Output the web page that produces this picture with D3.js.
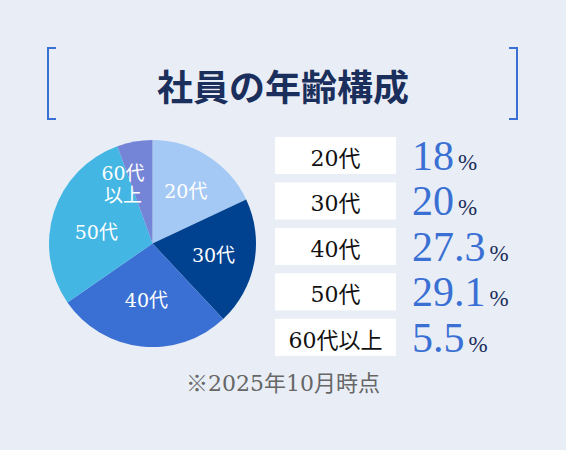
<!DOCTYPE html>
<html><head><meta charset="utf-8">
<script src="https://cdn.jsdelivr.net/npm/d3@7/dist/d3.min.js"></script>
<style>
html,body{margin:0;padding:0;background:#e9eef6;}
svg{display:block;}
text{font-family:"DejaVu Serif","Liberation Serif","Noto Sans CJK JP",serif;}
text.val{font-family:"Liberation Serif","Noto Sans CJK JP",serif;}
</style></head>
<body>
<svg id="c" width="566" height="450"></svg>
<script>
const title = "社員の年齢構成";
const categories = ["20代","30代","40代","50代","60代以上"];
const values = [18, 20, 27.3, 29.1, 5.5];
const valueLabels = ["18","20","27.3","29.1","5.5"];
const colors = ["#a5c9f5","#004190","#3a70d4","#43b6e3","#7485d8"];
const sliceLabels = [["20代"],["30代"],["40代"],["50代"],["60代","以上"]];
const note = "※2025年10月時点";

const svg = d3.select("#c");
svg.append("rect").attr("width",566).attr("height",450).attr("fill","#e9eef6");

// brackets
const br = "#3a70d4";
svg.append("path").attr("d","M56,48 H48 V119 H56").attr("fill","none").attr("stroke",br).attr("stroke-width",2);
svg.append("path").attr("d","M509,48 H517 V119 H509").attr("fill","none").attr("stroke",br).attr("stroke-width",2);
svg.append("text").attr("x",283).attr("y",101).attr("text-anchor","middle")
  .attr("font-size",36).attr("font-weight","bold").attr("fill","#1b2f5c").text(title);

// pie
const cx = 152.5, cy = 243.5, r = 103.5;
const pie = d3.pie().sort(null).value(d=>d.v);
const data = categories.map((c,i)=>({c, v:values[i], i}));
const arcs = pie(data);
const arc = d3.arc().innerRadius(0).outerRadius(r);
const g = svg.append("g").attr("transform",`translate(${cx},${cy})`);
g.selectAll("path").data(arcs).join("path").attr("d",arc).attr("fill",d=>colors[d.data.i]);

const labelR = [0.6,0.6,0.55,0.57,0.72];
const labelDy = [0,0,0,6,0];
g.selectAll("text.sl").data(arcs).join("text").attr("class","sl")
  .attr("fill","#fff").attr("font-size",19).attr("text-anchor","middle")
  .each(function(d){
    const a = (d.startAngle+d.endAngle)/2;
    const rr = r*labelR[d.data.i];
    let x = Math.sin(a)*rr, y = -Math.cos(a)*rr + labelDy[d.data.i];
    const lines = sliceLabels[d.data.i];
    if (d.data.i===4){ x = -29.5; y = -59.5; }
    const t = d3.select(this);
    lines.forEach((l,k)=>{
      t.append("tspan").attr("x",x).attr("y",y + 7 + (k-(lines.length-1)/2)*22).text(l);
    });
  });

// table
const rowY = d3.scaleBand().domain(categories).range([137,357]).paddingInner(0.16).paddingOuter(0);
const rows = svg.append("g");
categories.forEach((c,i)=>{
  const y = rowY(c), h = 37;
  rows.append("rect").attr("x",275).attr("y",y).attr("width",121).attr("height",h).attr("fill","#fff");
  rows.append("text").attr("x",335.5).attr("y",y+29).attr("text-anchor","middle")
    .attr("font-size",22).attr("fill","#111").text(c);
  const t = rows.append("text").attr("class","val").attr("x",412).attr("y",y+33).attr("fill","#3a70d4");
  t.append("tspan").attr("font-size",42).text(valueLabels[i]);
  t.append("tspan").attr("font-size",23).attr("fill","#1b2f5c").attr("dx",4).text("%");
});

svg.append("text").attr("x",283).attr("y",391).attr("text-anchor","middle")
  .attr("font-size",22).attr("fill","#666").text(note);
</script>
</body></html>
